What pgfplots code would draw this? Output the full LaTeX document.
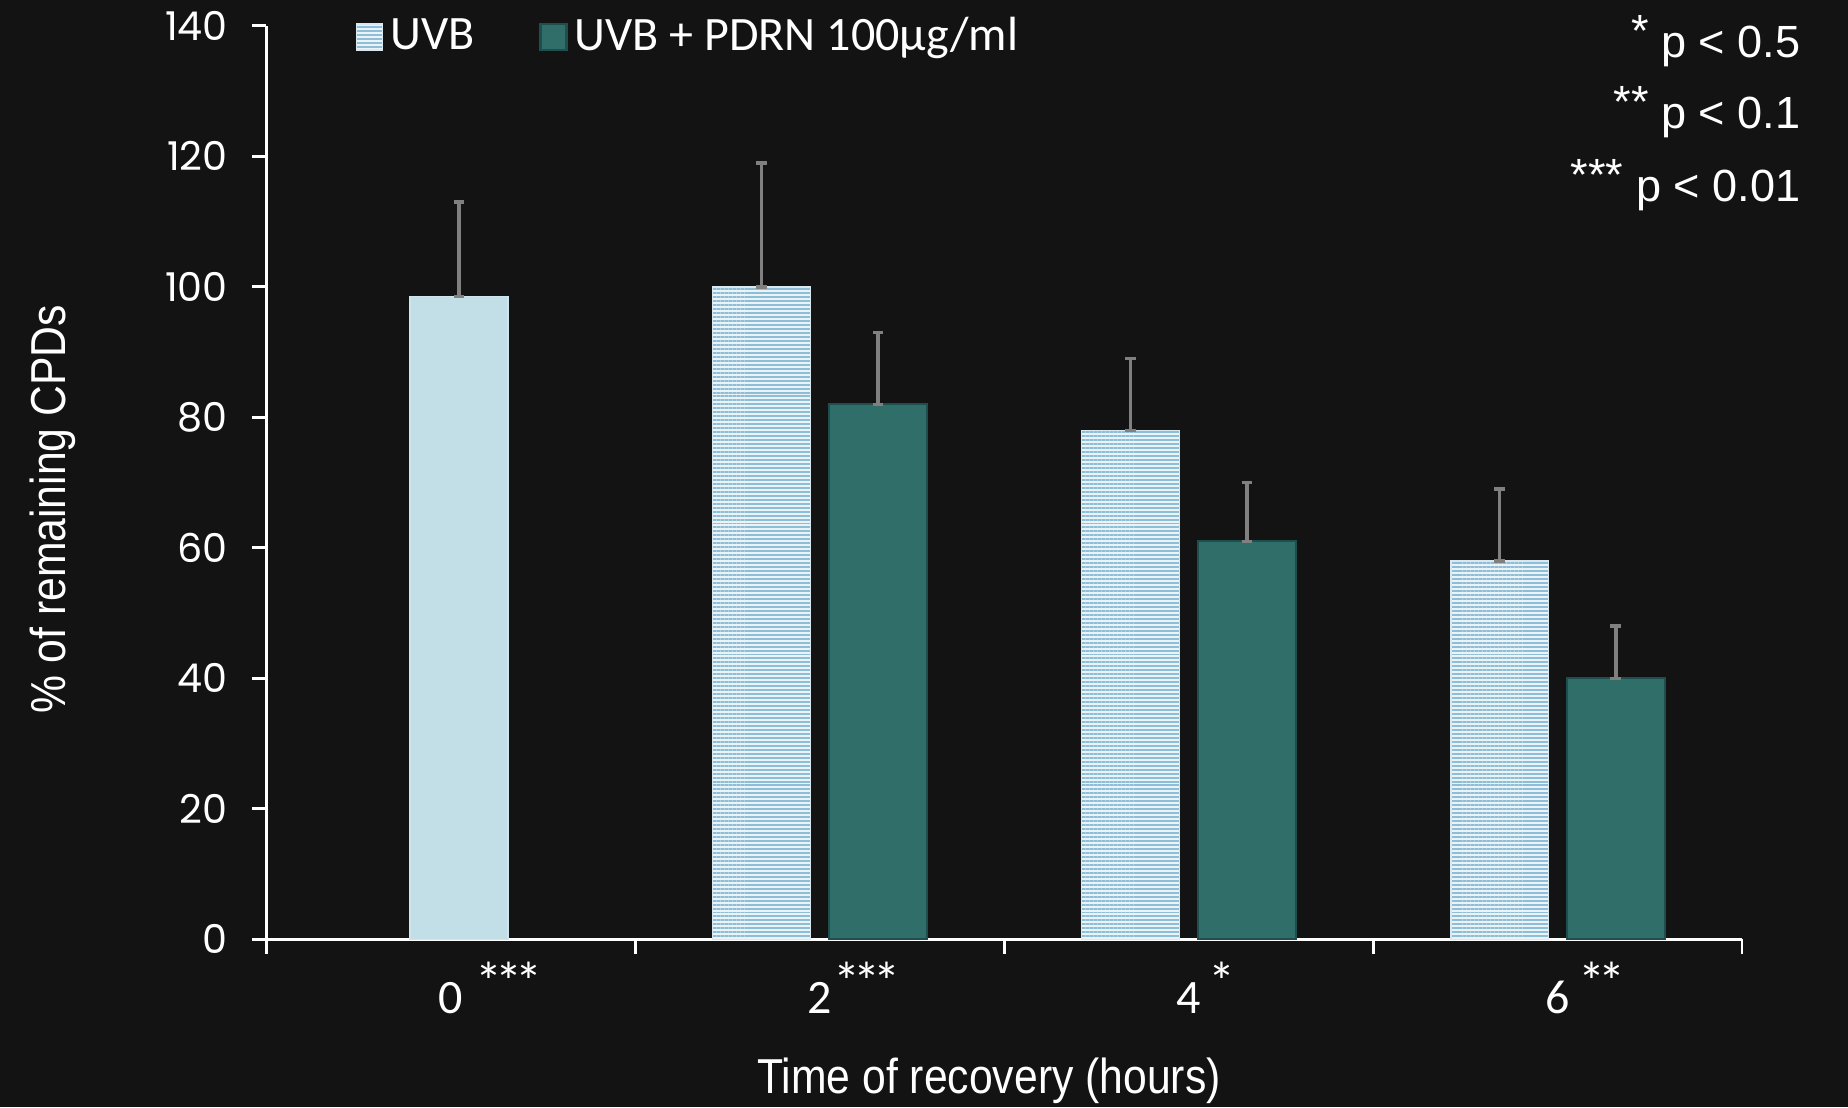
\documentclass[border=0pt]{standalone}
\usepackage{fontspec}
\setmainfont{Carlito}
\newfontfamily\narrowfont[FakeStretch=0.87]{Liberation Sans}
\newfontfamily\arialfont{Liberation Sans}
\newfontfamily\numfont{Poppins}
\usepackage{pgfplots}
\pgfplotsset{compat=1.18}
\usetikzlibrary{patterns.meta}
\definecolor{bg}{RGB}{19,19,19}
\definecolor{uvbstripe}{RGB}{140,190,215}
\definecolor{uvbbase}{RGB}{236,243,246}
\definecolor{uvbzero}{RGB}{194,222,230}
\definecolor{pdrn}{RGB}{48,110,106}
\definecolor{pdrnedge}{RGB}{30,78,78}
\definecolor{errgray}{RGB}{128,128,128}
\newcommand{\stars}[1]{\raisebox{3.5pt}{\fontsize{15}{15}\selectfont#1}}

\begin{document}
\begin{tikzpicture}
% canvas
\useasboundingbox (-2.595cm,-1.633cm) rectangle (15.404cm,9.149cm);
\fill[bg] (-2.595cm,-1.633cm) rectangle (15.404cm,9.149cm);
\begin{axis}[
    at={(0,0)}, anchor=south west,
    scale only axis,
    width=14.372cm, height=8.897cm,
    xmin=-0.5, xmax=3.5,
    ymin=0, ymax=140,
    axis lines=left,
    axis line style={-, white, line width=0.8pt},
    tick style={white, line width=0.8pt},
    tick align=outside,
    major tick length=4pt,
    ytick={0,20,...,140},
    xtick={-0.5,0.5,1.5,2.5,3.5},
    xticklabels={{},{},{},{},{}},
    extra x ticks={0,1,2,3},
    extra x tick labels={
        0\rlap{\hspace{3.5pt}\stars{*\kern-2pt*\kern-2pt*}},
        2\rlap{\hspace{0.5pt}\stars{*\kern-2pt*\kern-2pt*}},
        4\rlap{\hspace{2pt}\stars{*}},
        6\rlap{\hspace{2.5pt}\stars{*\kern-2pt*}}},
    extra x tick style={major tick length=0pt,
        tick label style={anchor=base, yshift=-20.5pt}},
    /pgf/number format/assume math mode=true,
    yticklabel style={font=\numfont\fontsize{11}{13}\selectfont, text=white, xshift=-3.2pt},
    xticklabel style={font=\fontsize{13.3}{15}\selectfont, text=white},
    ylabel={\% of remaining CPDs},
    ylabel style={font=\narrowfont\fontsize{13.6}{16}\selectfont, text=white,
        at={(axis description cs:-0.1446,0.471)}, anchor=center},
    xlabel={Time of recovery (hours)},
    xlabel style={font=\narrowfont\fontsize{13.6}{16}\selectfont, text=white,
        at={(axis description cs:0.4897,-0.155)}, anchor=center},
    ybar,
    bar width=0.265,
    clip=false,
    legend columns=2,
    legend style={at={(0.06,0.988)}, anchor=west, draw=none, fill=none,
        text=white, font=\fontsize{13.3}{15}\selectfont, inner sep=0pt,
        /tikz/every even column/.append style={column sep=16pt}},
    legend image code/.code={\fill[#1] (0pt,-3.6pt) rectangle (7.2pt,3.6pt);},
    error bars/y dir=both,
    error bars/y explicit,
    error bars/error bar style={errgray, line width=1pt},
    error bars/error mark options={rotate=90, errgray, mark size=1.5pt, line width=1pt},
]

% UVB (striped bars)
\addplot[bar shift=0pt, fill=uvbbase, draw=uvbbase!80!uvbstripe, line width=0.4pt,
    postaction={pattern={Lines[angle=0, distance=1.1pt, line width=0.55pt]}, pattern color=uvbstripe}]
coordinates {
    (0.842,100) += (0,19) -= (0,0)
    (1.842,78)  += (0,11) -= (0,0)
    (2.843,58)  += (0,11) -= (0,0)
};

% UVB + PDRN 100ug/ml
\addplot[bar shift=0pt, fill=pdrn, draw=pdrnedge, line width=0.6pt]
coordinates {
    (1.158,82) += (0,11) -= (0,0)
    (2.158,61) += (0,9)  -= (0,0)
    (3.158,40) += (0,8)  -= (0,0)
};

% UVB at 0 h (solid)
\addplot[forget plot, bar shift=0pt, fill=uvbzero, draw=uvbzero!80!white, line width=0.4pt]
coordinates {
    (0.022,98.5) += (0,14.5) -= (0,0)
};

\legend{UVB, UVB + PDRN 100µg/ml}

% significance key
\node[anchor=east, inner sep=0pt, text=white, font=\arialfont\fontsize{12.5}{14}\selectfont] at (rel axis cs:1.04,0.9835) {\raisebox{3pt}{*} p < 0.5};
\node[anchor=east, inner sep=0pt, text=white, font=\arialfont\fontsize{12.5}{14}\selectfont] at (rel axis cs:1.04,0.9055) {\raisebox{3pt}{**} p < 0.1};
\node[anchor=east, inner sep=0pt, text=white, font=\arialfont\fontsize{12.5}{14}\selectfont] at (rel axis cs:1.04,0.8257) {\raisebox{3pt}{***} p < 0.01};
\end{axis}
\end{tikzpicture}
\end{document}
